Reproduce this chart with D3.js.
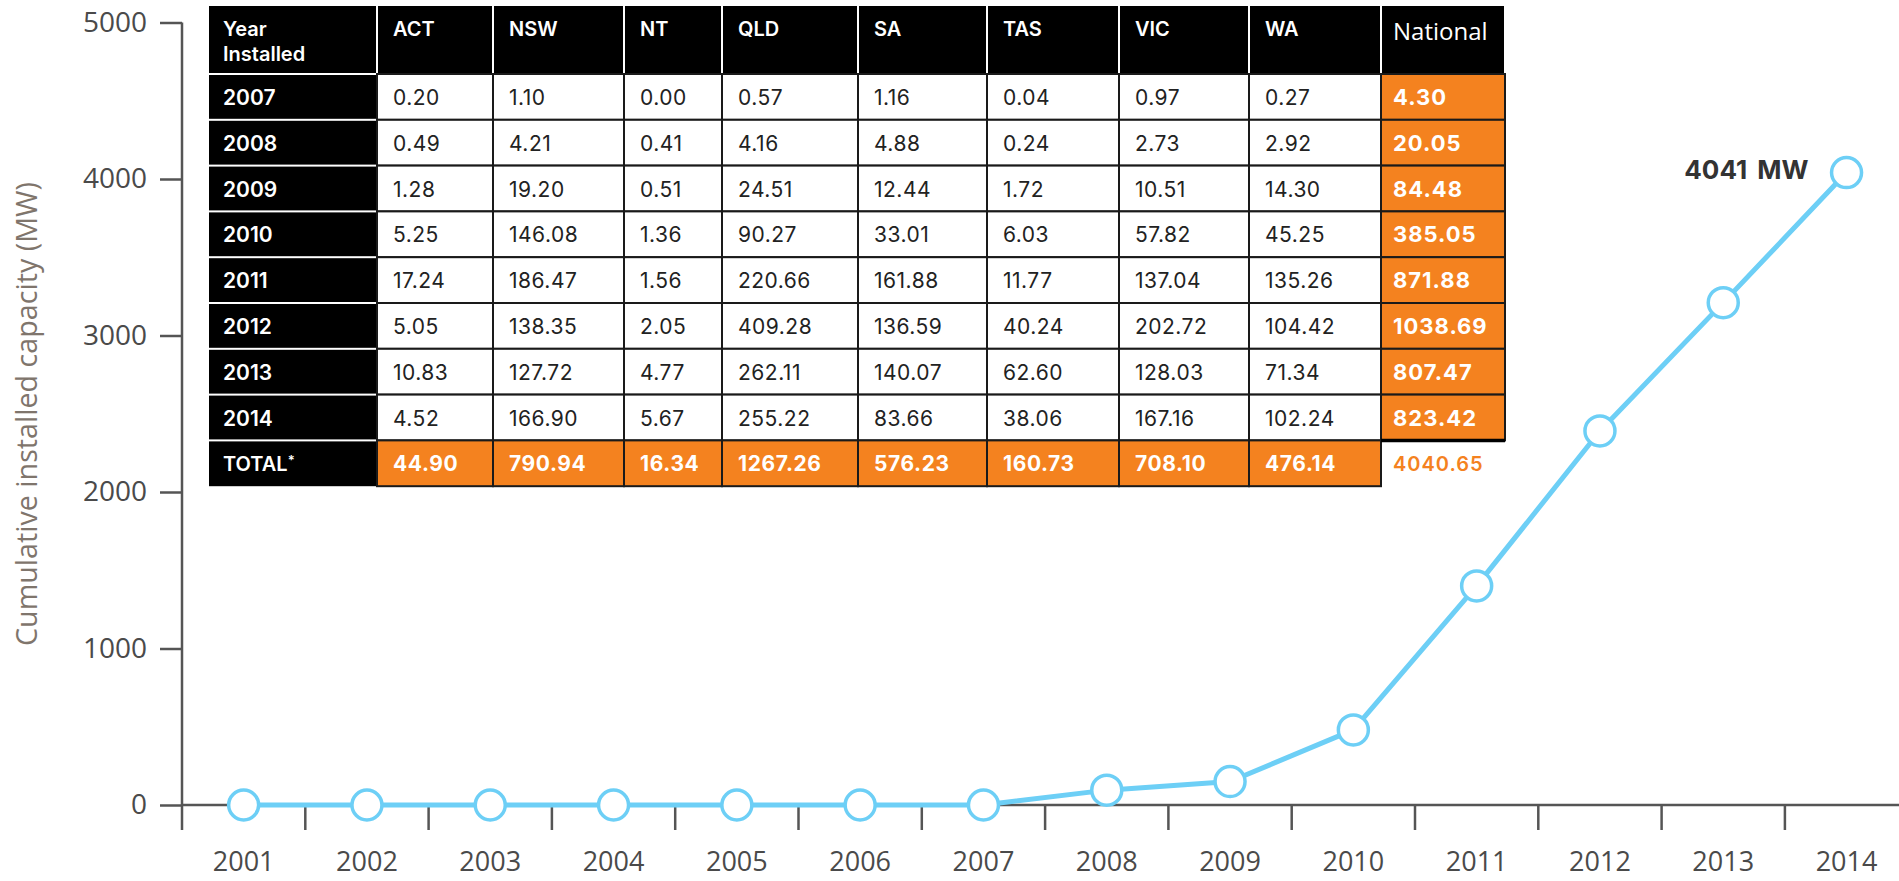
<!DOCTYPE html>
<html>
<head>
<meta charset="utf-8">
<script src="https://cdn.jsdelivr.net/npm/d3@7"></script>
<style>
  body { margin: 0; background: #fff; }
  svg { display: block; }
</style>
</head>
<body>
<script>
// chart series (cumulative MW)
var years = [2001, 2002, 2003, 2004, 2005, 2006, 2007, 2008, 2009, 2010, 2011, 2012, 2013, 2014];
var capacity = [0, 0, 0, 0, 0, 0, 0, 95, 150, 480, 1400, 2390, 3210, 4041];
var yTicks = [0, 1000, 2000, 3000, 4000, 5000];

// table data
var tableYears = ['2007', '2008', '2009', '2010', '2011', '2012', '2013', '2014'];
var states = ['ACT', 'NSW', 'NT', 'QLD', 'SA', 'TAS', 'VIC', 'WA'];
var act = [0.20, 0.49, 1.28, 5.25, 17.24, 5.05, 10.83, 4.52];
var nsw = [1.10, 4.21, 19.20, 146.08, 186.47, 138.35, 127.72, 166.90];
var nt  = [0.00, 0.41, 0.51, 1.36, 1.56, 2.05, 4.77, 5.67];
var qld = [0.57, 4.16, 24.51, 90.27, 220.66, 409.28, 262.11, 255.22];
var sa  = [1.16, 4.88, 12.44, 33.01, 161.88, 136.59, 140.07, 83.66];
var tas = [0.04, 0.24, 1.72, 6.03, 11.77, 40.24, 62.60, 38.06];
var vic = [0.97, 2.73, 10.51, 57.82, 137.04, 202.72, 128.03, 167.16];
var wa  = [0.27, 2.92, 14.30, 45.25, 135.26, 104.42, 71.34, 102.24];
var national = [4.30, 20.05, 84.48, 385.05, 871.88, 1038.69, 807.47, 823.42];
var stateTotals = [44.90, 790.94, 16.34, 1267.26, 576.23, 160.73, 708.10, 476.14];
var nationalTotal = 4040.65;

var width = 1899, height = 881;
var blue = '#6dcff6', orange = '#f4821f', axisGrey = '#555';
var fmt = d3.format('.2f');

var svg = d3.select('body').append('svg')
    .attr('width', width)
    .attr('height', height);

var x = d3.scaleBand().domain(years).range([182, 182 + 14 * 123.3]);
var y = d3.scaleLinear().domain([0, 5000]).range([805, 22.5]);
var bw = x.bandwidth();

// y axis
var yAxis = svg.append('g')
    .attr('transform', 'translate(182,0)')
    .call(d3.axisLeft(y).tickValues(yTicks).tickSize(22).tickPadding(13).tickFormat(d3.format('d')));
yAxis.select('.domain').remove();
yAxis.selectAll('.tick line').attr('stroke', axisGrey).attr('stroke-width', 2.5);
yAxis.selectAll('.tick text')
    .attr('fill', '#4a4a4a')
    .style('font-family', '"Open Sans", sans-serif')
    .style('font-size', '28px');
svg.append('line')
    .attr('x1', 182).attr('x2', 182)
    .attr('y1', y(5000)).attr('y2', 830)
    .attr('stroke', axisGrey).attr('stroke-width', 2.5);

var yLabel = svg.append('text')
    .attr('transform', 'translate(37,' + 414 + ') rotate(-90)')
    .attr('text-anchor', 'middle')
    .attr('fill', '#7f756c')
    .style('font-family', '"Open Sans", sans-serif')
    .style('font-size', '26px')
    .text('Cumulative installed capacity (MW)');
// size the label so it spans the same height as in the source
var labLen = yLabel.node().getComputedTextLength();
yLabel.style('font-size', (26 * 465 / labLen).toFixed(1) + 'px');

// x axis
svg.append('line')
    .attr('x1', 182).attr('x2', width)
    .attr('y1', y(0)).attr('y2', y(0))
    .attr('stroke', axisGrey).attr('stroke-width', 2.5);
svg.append('g').selectAll('line')
    .data(years)
    .enter().append('line')
    .attr('x1', function(d) { return x(d) + bw; })
    .attr('x2', function(d) { return x(d) + bw; })
    .attr('y1', y(0)).attr('y2', 830)
    .attr('stroke', axisGrey).attr('stroke-width', 2.5);
svg.append('g').selectAll('text')
    .data(years)
    .enter().append('text')
    .attr('x', function(d) { return x(d) + bw / 2; })
    .attr('y', 871)
    .attr('text-anchor', 'middle')
    .attr('fill', '#4a4a4a')
    .style('font-family', '"Open Sans", sans-serif')
    .style('font-size', '27px')
    .text(function(d) { return d; });

// table
var colW = [168, 116, 131, 98, 136, 129, 132, 130, 132, 124];
var colX = [];
colW.reduce(function(acc, w) { colX.push(acc); return acc + w; }, 209);
var tTop = 6, headH = 68, rowH = 45.8;
function rowY(i) { return tTop + headH + i * rowH; }

var stateValues = [act, nsw, nt, qld, sa, tas, vic, wa];
var table = svg.append('g').style('font-family', 'Inter, sans-serif');

var headers = ['Year Installed'].concat(states).concat(['National']);
headers.forEach(function(h, j) {
    table.append('rect')
        .attr('x', colX[j] + (j === 0 ? 0 : 1)).attr('y', tTop)
        .attr('width', colW[j] - (j === 0 ? 1 : 2)).attr('height', headH - 1)
        .attr('fill', '#000');
});
// header labels
var yr = table.append('text')
    .attr('fill', '#fff').style('font-size', '20px').style('font-weight', 600);
yr.append('tspan').attr('x', colX[0] + 14).attr('y', 36).text('Year');
yr.append('tspan').attr('x', colX[0] + 14).attr('y', 61).text('Installed');
states.forEach(function(s, k) {
    table.append('text')
        .attr('x', colX[k + 1] + 16).attr('y', 36)
        .attr('fill', '#fff')
        .style('font-size', '20px').style('font-weight', 600)
        .text(s);
});
table.append('text')
    .attr('x', colX[9] + 12).attr('y', 40)
    .attr('fill', '#fff')
    .style('font-family', '"Open Sans", sans-serif')
    .style('font-size', '24px')
    .text('National');

// body rows
tableYears.forEach(function(ty, i) {
    var top = rowY(i);
    table.append('rect')
        .attr('x', colX[0]).attr('y', top + 1)
        .attr('width', colW[0] - 1).attr('height', rowH - 2)
        .attr('fill', '#000');
    table.append('text')
        .attr('x', colX[0] + 14).attr('y', top + rowH / 2 + 8)
        .attr('fill', '#fff')
        .style('font-size', '21px').style('font-weight', 600)
        .text(ty);
    stateValues.forEach(function(arr, k) {
        table.append('rect')
            .attr('x', colX[k + 1]).attr('y', top)
            .attr('width', colW[k + 1]).attr('height', rowH)
            .attr('fill', '#fff').attr('stroke', '#1a1a1a').attr('stroke-width', 2);
        table.append('text')
            .attr('x', colX[k + 1] + 16).attr('y', top + rowH / 2 + 8)
            .attr('fill', '#222')
            .style('font-size', '21px').style('letter-spacing', '0.5px')
            .text(fmt(arr[i]));
    });
    table.append('rect')
        .attr('x', colX[9]).attr('y', top)
        .attr('width', colW[9]).attr('height', rowH)
        .attr('fill', orange).attr('stroke', '#1a1a1a').attr('stroke-width', 2);
    table.append('text')
        .attr('x', colX[9] + 12).attr('y', top + rowH / 2 + 8)
        .attr('fill', '#fff')
        .style('font-size', '22px').style('font-weight', 700).style('letter-spacing', '1px')
        .text(fmt(national[i]));
});

// total row
var tr = rowY(8);
table.append('rect')
    .attr('x', colX[0]).attr('y', tr + 1)
    .attr('width', colW[0] - 1).attr('height', rowH - 1)
    .attr('fill', '#000');
var tt = table.append('text')
    .attr('x', colX[0] + 14).attr('y', tr + rowH / 2 + 8)
    .attr('fill', '#fff')
    .style('font-size', '20px').style('font-weight', 600);
tt.append('tspan').text('TOTAL');
tt.append('tspan').attr('dy', -6).style('font-size', '13px').text('*');
stateTotals.forEach(function(v, k) {
    table.append('rect')
        .attr('x', colX[k + 1]).attr('y', tr)
        .attr('width', colW[k + 1]).attr('height', rowH)
        .attr('fill', orange).attr('stroke', '#1a1a1a').attr('stroke-width', 2);
    table.append('text')
        .attr('x', colX[k + 1] + 16).attr('y', tr + rowH / 2 + 8)
        .attr('fill', '#fff')
        .style('font-size', '21px').style('font-weight', 700).style('letter-spacing', '0.6px')
        .text(fmt(v));
});
table.append('line')
    .attr('x1', colX[9]).attr('x2', colX[9] + colW[9])
    .attr('y1', tr).attr('y2', tr)
    .attr('stroke', '#000').attr('stroke-width', 3.5);
table.append('text')
    .attr('x', colX[9] + 12).attr('y', tr + rowH / 2 + 8)
    .attr('fill', orange)
    .style('font-size', '20px').style('font-weight', 600).style('letter-spacing', '1px')
    .text(fmt(nationalTotal));

// line + markers
var pts = years.map(function(yv, i) { return { year: yv, value: capacity[i] }; });
var line = d3.line()
    .x(function(d) { return x(d.year) + bw / 2; })
    .y(function(d) { return y(d.value); });
svg.append('path')
    .datum(pts)
    .attr('d', line)
    .attr('fill', 'none')
    .attr('stroke', blue)
    .attr('stroke-width', 5)
    .attr('stroke-linejoin', 'round');
svg.append('g').selectAll('circle')
    .data(pts)
    .enter().append('circle')
    .attr('cx', function(d) { return x(d.year) + bw / 2; })
    .attr('cy', function(d) { return y(d.value); })
    .attr('r', 15)
    .attr('fill', '#fff')
    .attr('stroke', blue)
    .attr('stroke-width', 3.5);

var last = pts[pts.length - 1];
svg.append('text')
    .attr('x', x(last.year) + bw / 2 - 38)
    .attr('y', y(last.value) + 6)
    .attr('text-anchor', 'end')
    .attr('fill', '#333')
    .style('font-family', 'Inter, sans-serif')
    .style('font-size', '26px')
    .style('font-weight', 700)
    .style('word-spacing', '4px')
    .text(d3.format('d')(last.value) + ' MW');
</script>
</body>
</html>
